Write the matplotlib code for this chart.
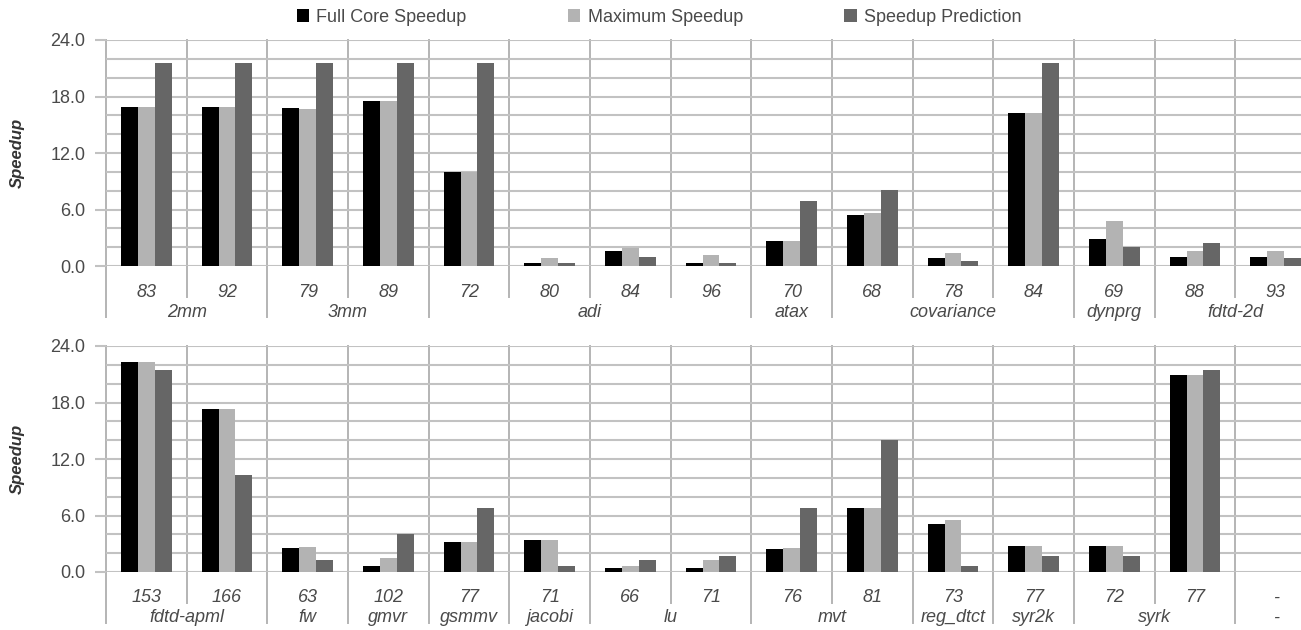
import numpy as np
import matplotlib
matplotlib.use("Agg")
import matplotlib.pyplot as plt
from matplotlib.patches import Patch
from matplotlib.transforms import blended_transform_factory

plt.rcParams['font.family'] = ['Liberation Sans', 'DejaVu Sans']

# ---- data -------------------------------------------------------------
series_names = ["Full Core Speedup", "Maximum Speedup", "Speedup Prediction"]
series_colors = ["#000000", "#b3b3b3", "#666666"]

top_groups = ["2mm", "3mm", "adi", "atax", "covariance", "dynprg", "fdtd-2d"]
top_group_sizes = [2, 2, 4, 1, 3, 1, 2]
top_items = ["83", "92", "79", "89", "72", "80", "84", "96", "70", "68", "78", "84", "69", "88", "93"]
top_full = [16.9, 16.9, 16.8, 17.5, 10.0, 0.35, 1.6, 0.35, 2.7, 5.4, 0.8, 16.2, 2.9, 1.0, 1.0]
top_max = [16.9, 16.9, 16.7, 17.5, 10.0, 0.9, 1.9, 1.2, 2.65, 5.65, 1.4, 16.2, 4.8, 1.6, 1.6]
top_pred = [21.6, 21.6, 21.6, 21.6, 21.6, 0.35, 1.0, 0.35, 6.9, 8.05, 0.55, 21.6, 2.05, 2.45, 0.85]

bot_groups = ["fdtd-apml", "fw", "gmvr", "gsmmv", "jacobi", "lu", "mvt", "reg_dtct", "syr2k", "syrk", "-"]
bot_group_sizes = [2, 1, 1, 1, 1, 2, 2, 1, 1, 2, 1]
bot_items = ["153", "166", "63", "102", "77", "71", "66", "71", "76", "81", "73", "77", "72", "77", "-"]
bot_full = [22.3, 17.3, 2.6, 0.6, 3.2, 3.4, 0.4, 0.4, 2.4, 6.8, 5.1, 2.75, 2.8, 20.9, np.nan]
bot_max = [22.3, 17.3, 2.7, 1.5, 3.2, 3.35, 0.65, 1.25, 2.5, 6.8, 5.5, 2.75, 2.8, 20.9, np.nan]
bot_pred = [21.5, 10.25, 1.3, 4.05, 6.8, 0.65, 1.3, 1.75, 6.8, 14.05, 0.6, 1.65, 1.65, 21.5, np.nan]

y_major = [0, 6, 12, 18, 24]

# ---- layout -----------------------------------------------------------
W, H = 1301, 630
fig = plt.figure(figsize=(W / 100, H / 100), dpi=100)

GRID = "#c2c2c2"
SEP = "#b4b4b4"
TXT = "#4a4a4a"
FS = 13
bar_w = 0.21


def draw_panel(top_px, bottom_px, items, groups, sizes, values):
    h = bottom_px - top_px
    ax = fig.add_axes([106 / W, 1 - bottom_px / H, 1210 / W, h / H])
    n = len(items)
    x = np.arange(n) + 0.5
    for k, (vals, col) in enumerate(zip(values, series_colors)):
        ax.bar(x + (k - 1) * bar_w, vals, width=bar_w, color=col,
               edgecolor="none", zorder=3)
    ax.set_xlim(0, n)
    ax.set_ylim(0, 24)
    ax.set_yticks(y_major)
    ax.set_yticks(np.arange(0, 25, 2), minor=True)
    ax.set_yticklabels([f"{v:.1f}" for v in y_major], fontsize=FS, color=TXT)
    ax.tick_params(axis="y", which="major", length=8, width=1.5, color=GRID, pad=7)
    ax.tick_params(axis="y", which="minor", length=0)
    ax.set_xticks([])
    ax.grid(axis="y", which="both", color=GRID, linewidth=1.5, zorder=0)
    for s in ax.spines.values():
        s.set_visible(False)

    fig.text(17.5 / W, 1 - (top_px + bottom_px) / 2 / H, "Speedup", rotation=90,
             ha="center", va="center", fontsize=12, fontweight="bold",
             fontstyle="italic", color="#333333")

    tr = blended_transform_factory(ax.transData, ax.transAxes)
    short_end = -31 / h
    long_end = -51 / h
    bounds = np.concatenate([[0], np.cumsum(sizes)])
    group_edges = set(bounds.tolist())
    for b in range(n + 1):
        end = long_end if b in group_edges else short_end
        ax.plot([b, b], [1, end], color=SEP, lw=1.4, transform=tr,
                clip_on=False, zorder=1)
    for i, lab in enumerate(items):
        ax.text(x[i], -26 / h, lab, transform=tr, ha="center", va="center",
                fontsize=FS, fontstyle="italic", color=TXT)
    for g, lab in enumerate(groups):
        cx = (bounds[g] + bounds[g + 1]) / 2
        ax.text(cx, -46 / h, lab, transform=tr, ha="center", va="center",
                fontsize=FS, fontstyle="italic", color=TXT)
    return ax


draw_panel(40, 266, top_items, top_groups, top_group_sizes, [top_full, top_max, top_pred])
draw_panel(346, 572, bot_items, bot_groups, bot_group_sizes, [bot_full, bot_max, bot_pred])

handles = [Patch(facecolor=c, edgecolor="none") for c in series_colors]
fig.legend(handles, series_names, loc="center", bbox_to_anchor=(659 / W, 1 - 17 / H),
           ncol=3, frameon=False, fontsize=FS, handlelength=0.7, handleheight=0.7,
           handletextpad=0.4, columnspacing=5.6, labelcolor=TXT)

fig.savefig("out.png", dpi=100)
